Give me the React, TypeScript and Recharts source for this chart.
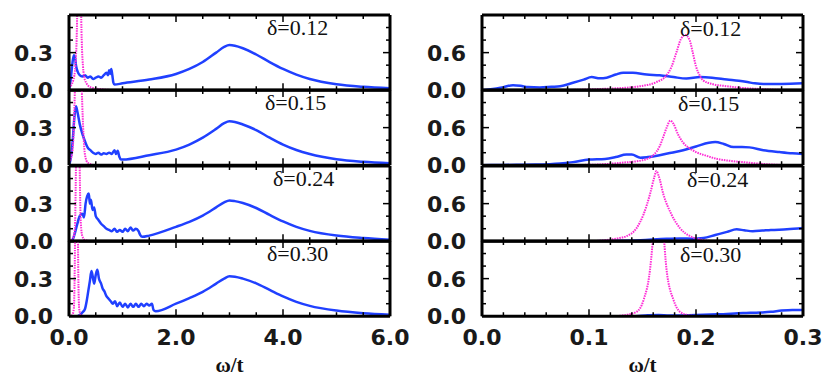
import React from 'react';
import { LineChart, Line, XAxis, YAxis } from 'recharts';

type Pt = [number, number];

// ---- axes ----
const leftXTicks = [0, 0.5, 1, 1.5, 2, 2.5, 3, 3.5, 4, 4.5, 5, 5.5, 6];
const leftXMajor = [0, 2, 4, 6];
const leftXLabels = ['0.0', '2.0', '4.0', '6.0'];
const leftYTicks = [0, 0.1, 0.2, 0.3, 0.4, 0.5];
const leftYMajor = [0, 0.3];
const leftYLabels = ['0.0', '0.3'];

const rightXTicks = [0, 0.02, 0.04, 0.06, 0.08, 0.1, 0.12, 0.14, 0.16, 0.18, 0.2, 0.22, 0.24, 0.26, 0.28, 0.3];
const rightXMajor = [0, 0.1, 0.2, 0.3];
const rightXLabels = ['0.0', '0.1', '0.2', '0.3'];
const rightYTicks = [0, 0.2, 0.4, 0.6, 0.8, 1.0];
const rightYMajor = [0, 0.6];
const rightYLabels = ['0.0', '0.6'];

const deltaLabels = ['δ=0.12', 'δ=0.15', 'δ=0.24', 'δ=0.30'];
const xTitle = 'ω/t';

// ---- left column (0..6) ----
const leftBlue012: Pt[] = [[0,0],[0.03,0.08],[0.06,0.2],[0.09,0.28],[0.11,0.27],[0.13,0.2],[0.16,0.15],[0.2,0.12],[0.25,0.11],[0.3,0.12],[0.35,0.1],[0.4,0.11],[0.45,0.09],[0.5,0.1],[0.55,0.11],[0.6,0.1],[0.65,0.12],[0.7,0.14],[0.73,0.12],[0.75,0.16],[0.77,0.13],[0.79,0.17],[0.81,0.12],[0.83,0.06],[0.85,0.045],[1.0,0.055],[1.5,0.085],[2.0,0.13],[2.25,0.17],[2.5,0.225],[2.75,0.3],[2.9,0.345],[3.0,0.36],[3.1,0.355],[3.25,0.335],[3.5,0.285],[3.75,0.225],[4.0,0.17],[4.25,0.125],[4.5,0.09],[5.0,0.048],[5.5,0.027],[6.0,0.015]];
const leftPink012: Pt[] = [[0,0.02],[0.08,0.08],[0.12,0.2],[0.15,0.55],[0.17,1.3],[0.19,3.0],[0.21,1.3],[0.23,0.55],[0.26,0.2],[0.3,0.08],[0.4,0.025],[0.6,0.008],[1.0,0],[6,0]];

const leftBlue015: Pt[] = [[0,0],[0.03,0.05],[0.07,0.2],[0.1,0.38],[0.13,0.47],[0.16,0.42],[0.2,0.33],[0.25,0.25],[0.3,0.19],[0.35,0.14],[0.4,0.12],[0.45,0.1],[0.5,0.09],[0.55,0.1],[0.6,0.085],[0.65,0.095],[0.7,0.09],[0.75,0.1],[0.8,0.09],[0.85,0.12],[0.88,0.09],[0.91,0.115],[0.94,0.07],[0.97,0.045],[1.0,0.045],[1.5,0.08],[2.0,0.125],[2.25,0.165],[2.5,0.22],[2.75,0.29],[2.9,0.335],[3.0,0.35],[3.1,0.345],[3.25,0.325],[3.5,0.28],[3.75,0.22],[4.0,0.165],[4.25,0.122],[4.5,0.09],[5.0,0.048],[5.5,0.027],[6.0,0.015]];
const leftPink015: Pt[] = [[0,0.02],[0.06,0.1],[0.09,0.3],[0.11,0.6],[0.14,1.2],[0.175,1.6],[0.21,1.2],[0.24,0.6],[0.27,0.25],[0.3,0.08],[0.35,0.02],[0.5,0],[6,0]];

const leftBlue024: Pt[] = [[0,0],[0.05,0.0],[0.1,0.05],[0.15,0.13],[0.2,0.2],[0.25,0.22],[0.28,0.19],[0.31,0.3],[0.34,0.36],[0.37,0.38],[0.39,0.3],[0.41,0.33],[0.44,0.25],[0.47,0.27],[0.5,0.2],[0.55,0.17],[0.6,0.14],[0.65,0.12],[0.7,0.1],[0.75,0.09],[0.8,0.08],[0.85,0.1],[0.9,0.075],[0.95,0.09],[1.0,0.075],[1.05,0.1],[1.1,0.08],[1.15,0.11],[1.2,0.085],[1.25,0.1],[1.3,0.08],[1.33,0.05],[1.37,0.035],[1.5,0.045],[2.0,0.115],[2.25,0.155],[2.5,0.205],[2.75,0.27],[2.9,0.31],[3.0,0.325],[3.1,0.32],[3.25,0.305],[3.5,0.265],[3.75,0.21],[4.0,0.158],[4.25,0.115],[4.5,0.083],[5.0,0.045],[5.5,0.025],[6.0,0.012]];
const leftPink024: Pt[] = [[0,0],[0.08,0.03],[0.11,0.1],[0.13,0.6],[0.15,1.5],[0.165,2.5],[0.18,1.5],[0.2,0.6],[0.22,0.15],[0.25,0.04],[0.3,0.01],[0.5,0],[6,0]];

const leftBlue030: Pt[] = [[0,0],[0.15,0],[0.2,0.01],[0.25,0.03],[0.3,0.06],[0.33,0.12],[0.36,0.2],[0.39,0.28],[0.42,0.36],[0.45,0.3],[0.47,0.26],[0.5,0.33],[0.53,0.37],[0.56,0.3],[0.6,0.26],[0.63,0.22],[0.66,0.2],[0.7,0.16],[0.74,0.14],[0.78,0.12],[0.82,0.1],[0.86,0.12],[0.9,0.08],[0.95,0.11],[1.0,0.075],[1.05,0.1],[1.1,0.07],[1.15,0.1],[1.2,0.075],[1.25,0.1],[1.3,0.075],[1.35,0.1],[1.4,0.08],[1.45,0.1],[1.5,0.085],[1.55,0.1],[1.58,0.05],[1.62,0.04],[2.0,0.1],[2.25,0.145],[2.5,0.195],[2.75,0.26],[2.9,0.3],[3.0,0.318],[3.1,0.315],[3.25,0.3],[3.5,0.262],[3.75,0.21],[4.0,0.158],[4.25,0.115],[4.5,0.083],[5.0,0.045],[5.5,0.024],[6.0,0.012]];
const leftPink030: Pt[] = [[0,0],[0.06,0.01],[0.09,0.06],[0.11,0.5],[0.125,1.5],[0.14,3],[0.155,1.5],[0.17,0.5],[0.19,0.06],[0.22,0.01],[0.3,0],[6,0]];

// ---- right column (0..0.3) ----
const rightBlue012: Pt[] = [[0,0],[0.01,0.02],[0.02,0.05],[0.029,0.08],[0.036,0.07],[0.043,0.05],[0.054,0.043],[0.065,0.055],[0.073,0.064],[0.085,0.12],[0.095,0.17],[0.1025,0.21],[0.11,0.19],[0.1165,0.2],[0.125,0.25],[0.132,0.28],[0.141,0.28],[0.154,0.25],[0.166,0.24],[0.179,0.21],[0.191,0.187],[0.204,0.21],[0.215,0.2],[0.229,0.17],[0.24,0.15],[0.248,0.13],[0.255,0.11],[0.263,0.1],[0.28,0.1],[0.3,0.11]];
const rightPink012: Pt[] = [[0,0],[0.08,0.005],[0.11,0.02],[0.13,0.035],[0.148,0.065],[0.163,0.13],[0.1725,0.24],[0.177,0.37],[0.182,0.62],[0.186,0.82],[0.19,0.88],[0.194,0.8],[0.197,0.6],[0.2,0.38],[0.204,0.22],[0.2065,0.16],[0.215,0.1],[0.229,0.064],[0.245,0.035],[0.26,0.02],[0.28,0.005],[0.3,0]];

const rightBlue015: Pt[] = [[0,0],[0.02,0.005],[0.05,0.01],[0.073,0.027],[0.085,0.05],[0.1,0.09],[0.115,0.1],[0.125,0.13],[0.135,0.17],[0.14,0.17],[0.148,0.12],[0.155,0.13],[0.166,0.16],[0.177,0.2],[0.188,0.24],[0.2,0.3],[0.212,0.36],[0.218,0.37],[0.226,0.34],[0.235,0.29],[0.243,0.29],[0.25,0.285],[0.263,0.24],[0.278,0.21],[0.29,0.19],[0.3,0.18]];
const rightPink015: Pt[] = [[0,0],[0.09,0.005],[0.107,0.01],[0.13,0.04],[0.15,0.08],[0.16,0.16],[0.166,0.3],[0.17,0.48],[0.173,0.62],[0.176,0.71],[0.179,0.66],[0.183,0.5],[0.188,0.36],[0.195,0.26],[0.2,0.21],[0.21,0.15],[0.22,0.1],[0.232,0.07],[0.244,0.05],[0.263,0.02],[0.28,0.005],[0.3,0]];

const rightBlue024: Pt[] = [[0,0],[0.1,0],[0.12,0.005],[0.148,0.016],[0.1725,0.04],[0.185,0.045],[0.197,0.04],[0.207,0.05],[0.218,0.1],[0.229,0.15],[0.238,0.19],[0.245,0.175],[0.253,0.16],[0.262,0.17],[0.27,0.18],[0.285,0.19],[0.3,0.21]];
const rightPink024: Pt[] = [[0,0],[0.1,0],[0.1165,0.02],[0.128,0.05],[0.135,0.08],[0.1445,0.21],[0.151,0.43],[0.157,0.75],[0.161,1.02],[0.163,1.12],[0.165,1.05],[0.1695,0.75],[0.177,0.43],[0.185,0.21],[0.1945,0.08],[0.204,0.03],[0.215,0.005],[0.3,0]];

const rightBlue030: Pt[] = [[0,0],[0.14,0],[0.155,0.015],[0.165,0.02],[0.175,0.01],[0.2,0.02],[0.22,0.03],[0.244,0.05],[0.26,0.06],[0.27,0.07],[0.28,0.09],[0.29,0.1],[0.3,0.1]];
const rightPink030: Pt[] = [[0,0],[0.12,0],[0.13,0.01],[0.137,0.03],[0.1445,0.07],[0.151,0.26],[0.157,0.74],[0.161,1.5],[0.165,2.5],[0.169,1.5],[0.1725,0.74],[0.179,0.26],[0.185,0.07],[0.192,0.02],[0.2,0.005],[0.3,0]];

const leftBlue = [leftBlue012, leftBlue015, leftBlue024, leftBlue030];
const leftPink = [leftPink012, leftPink015, leftPink024, leftPink030];
const rightBlue = [rightBlue012, rightBlue015, rightBlue024, rightBlue030];
const rightPink = [rightPink012, rightPink015, rightPink024, rightPink030];

// ---- styling / layout ----
const BLUE = '#2040ff';
const PINK = '#ff2bd6';
const TICK_FONT = "'DejaVu Sans', sans-serif";
const SERIF = "'Liberation Serif', 'DejaVu Serif', serif";
const MAJOR_LEN = 7;
const MINOR_LEN = 4;
const AXIS_LINE = { stroke: '#000', strokeWidth: 3 };

const COL_LEFT = [69, 482];
const PLOT_W = 321;
const PLOT_TOP = 15;
const PLOT_H = 75.25;
const DELTA_X = [[267, 265, 273, 267], [680, 678, 687, 680]];

interface AxisSpec {
  domain: [number, number];
  ticks: number[];
  major: number[];
  labels: string[];
}

const leftX: AxisSpec = { domain: [0, 6], ticks: leftXTicks, major: leftXMajor, labels: leftXLabels };
const leftY: AxisSpec = { domain: [0, 0.6], ticks: leftYTicks, major: leftYMajor, labels: leftYLabels };
const rightX: AxisSpec = { domain: [0, 0.3], ticks: rightXTicks, major: rightXMajor, labels: rightXLabels };
const rightY: AxisSpec = { domain: [0, 1.2], ticks: rightYTicks, major: rightYMajor, labels: rightYLabels };

const majorIndex = (v: number, major: number[]) => major.findIndex((m) => Math.abs(m - v) < 1e-6);

const labelStyle = { fontFamily: TICK_FONT, fontSize: 22, fontWeight: 'bold', fill: '#1a1a1a' } as const;

function makeTick(side: 'bottom' | 'top' | 'left' | 'right', spec: AxisSpec, showLabels: boolean) {
  return (props: any) => {
    const { x, y, payload } = props;
    const idx = majorIndex(payload.value, spec.major);
    const len = idx >= 0 ? MAJOR_LEN : MINOR_LEN;
    let line;
    if (side === 'bottom') line = <line x1={x} y1={y} x2={x} y2={y - len} stroke="#000" strokeWidth={1.5} />;
    else if (side === 'top') line = <line x1={x} y1={y} x2={x} y2={y + len} stroke="#000" strokeWidth={1.5} />;
    else if (side === 'left') line = <line x1={x} y1={y} x2={x + len} y2={y} stroke="#000" strokeWidth={1.5} />;
    else line = <line x1={x} y1={y} x2={x - len} y2={y} stroke="#000" strokeWidth={1.5} />;
    let label = null;
    if (showLabels && idx >= 0) {
      if (side === 'bottom') {
        label = <text x={x} y={y + 29} textAnchor="middle" {...labelStyle}>{spec.labels[idx]}</text>;
      } else if (side === 'left') {
        label = <text x={x - 16} y={y} dy="0.36em" textAnchor="end" {...labelStyle}>{spec.labels[idx]}</text>;
      }
    }
    return (
      <g>
        {line}
        {label}
      </g>
    );
  };
}

interface PanelProps {
  col: number;
  row: number;
  xs: AxisSpec;
  ys: AxisSpec;
  blue: Pt[];
  pink: Pt[];
}

function Panel({ col, row, xs, ys, blue, pink }: PanelProps) {
  const showX = row === 3;
  // axes take 1px each; margins make the plot area land on the frame
  const mL = 68, mR = 30, mT = 7, mB = showX ? 44 : 20;
  const plotLeft = COL_LEFT[col];
  const plotTop = PLOT_TOP + row * PLOT_H;
  const blueData = blue.map(([x, y]) => ({ x, y }));
  const pinkData = pink.map(([x, y]) => ({ x, y }));
  return (
    <div style={{ position: 'absolute', left: plotLeft - mL - 1, top: plotTop - mT - 1 }}>
      <LineChart
        width={PLOT_W + mL + mR + 2}
        height={PLOT_H + mT + mB + 2}
        margin={{ top: mT, right: mR, bottom: mB, left: mL }}
      >
        <XAxis xAxisId="b" type="number" dataKey="x" domain={xs.domain} allowDataOverflow ticks={xs.ticks}
          interval={0} height={1} tickSize={0} tickMargin={0} axisLine={AXIS_LINE} tickLine={false}
          tick={makeTick('bottom', xs, showX)} />
        <XAxis xAxisId="t" orientation="top" type="number" dataKey="x" domain={xs.domain} allowDataOverflow ticks={xs.ticks}
          interval={0} height={1} tickSize={0} tickMargin={0} axisLine={AXIS_LINE} tickLine={false}
          tick={makeTick('top', xs, false)} />
        <YAxis yAxisId="l" type="number" domain={ys.domain} allowDataOverflow ticks={ys.ticks}
          interval={0} width={1} tickSize={0} tickMargin={0} axisLine={AXIS_LINE} tickLine={false}
          tick={makeTick('left', ys, true)} />
        <YAxis yAxisId="r" orientation="right" type="number" domain={ys.domain} allowDataOverflow ticks={ys.ticks}
          interval={0} width={1} tickSize={0} tickMargin={0} axisLine={AXIS_LINE} tickLine={false}
          tick={makeTick('right', ys, false)} />
        <Line xAxisId="b" yAxisId="l" data={blueData} dataKey="y" type="monotone" stroke={BLUE}
          strokeWidth={2.5} dot={false} isAnimationActive={false} />
        <Line xAxisId="b" yAxisId="l" data={pinkData} dataKey="y" type="monotone" stroke={PINK}
          strokeWidth={2} strokeDasharray="1.5 1" dot={false} isAnimationActive={false} />
      </LineChart>
    </div>
  );
}

export default function App() {
  const panels = [];
  for (let r = 0; r < 4; r++) {
    panels.push(<Panel key={`l${r}`} col={0} row={r} xs={leftX} ys={leftY} blue={leftBlue[r]} pink={leftPink[r]} />);
    panels.push(<Panel key={`r${r}`} col={1} row={r} xs={rightX} ys={rightY} blue={rightBlue[r]} pink={rightPink[r]} />);
  }
  return (
    <div style={{ position: 'absolute', left: 0, top: 0, width: 823, height: 378, background: '#fff', overflow: 'hidden' }}>
      {panels}
      <svg width={823} height={378} style={{ position: 'absolute', left: 0, top: 0, pointerEvents: 'none' }}>
        {deltaLabels.map((t, r) => (
          <React.Fragment key={t}>
            <text x={DELTA_X[0][r]} y={PLOT_TOP + r * PLOT_H + 20} fontFamily={SERIF} fontSize={22} fill="#111">{t}</text>
            <text x={DELTA_X[1][r]} y={PLOT_TOP + r * PLOT_H + 21} fontFamily={SERIF} fontSize={22} fill="#111">{t}</text>
          </React.Fragment>
        ))}
        <text x={COL_LEFT[0] + PLOT_W / 2} y={372} textAnchor="middle" fontFamily={SERIF} fontSize={21} fontWeight="bold" fill="#111">{xTitle}</text>
        <text x={COL_LEFT[1] + PLOT_W / 2} y={372} textAnchor="middle" fontFamily={SERIF} fontSize={21} fontWeight="bold" fill="#111">{xTitle}</text>
      </svg>
    </div>
  );
}
